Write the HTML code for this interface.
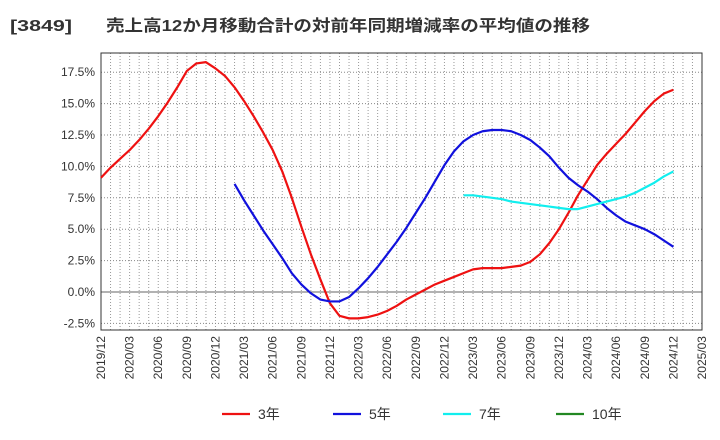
<!DOCTYPE html>
<html><head><meta charset="utf-8"><style>
body{margin:0;background:#fff;font-family:"Liberation Sans","Noto Sans CJK JP",sans-serif}
svg{display:block}
</style></head><body>
<svg id="c" width="720" height="440" xmlns="http://www.w3.org/2000/svg">
<g font-size="16" font-weight="bold" fill="#333" font-family="Liberation Sans,Noto Sans CJK JP,sans-serif">
<text x="10" y="31" textLength="62" lengthAdjust="spacingAndGlyphs">[3849]</text>
<text x="106" y="31" textLength="484" lengthAdjust="spacingAndGlyphs">売上高12か月移動合計の対前年同期増減率の平均値の推移</text>
</g>
<g id="grid"></g><g id="axes"></g><g id="series"></g><g id="legend"></g>
</svg>
<script>
const yTicks=[-2.5,0,2.5,5,7.5,10,12.5,15,17.5];
const xLabels=["2019/12","2020/03","2020/06","2020/09","2020/12","2021/03","2021/06","2021/09","2021/12","2022/03","2022/06","2022/09","2022/12","2023/03","2023/06","2023/09","2023/12","2024/03","2024/06","2024/09","2024/12","2025/03"];
const s3=[9.1,9.9,10.6,11.3,12.1,13.0,14.0,15.1,16.3,17.6,18.2,18.3,17.8,17.2,16.3,15.2,14.0,12.7,11.3,9.6,7.5,5.2,3.0,1.0,-0.9,-1.9,-2.1,-2.1,-2.0,-1.8,-1.5,-1.1,-0.6,-0.2,0.2,0.6,0.9,1.2,1.5,1.8,1.9,1.9,1.9,2.0,2.1,2.4,3.0,3.9,5.0,6.3,7.7,8.9,10.1,11.0,11.8,12.6,13.5,14.4,15.2,15.8,16.1];
const s5start=14;
const s5=[8.6,7.3,6.1,4.9,3.8,2.7,1.5,0.6,-0.1,-0.6,-0.75,-0.75,-0.4,0.3,1.1,2.0,3.0,4.0,5.1,6.3,7.5,8.8,10.1,11.2,12.0,12.5,12.8,12.9,12.9,12.8,12.5,12.1,11.5,10.8,9.9,9.1,8.5,8.0,7.4,6.7,6.1,5.6,5.3,5.0,4.6,4.1,3.6];
const s7start=38;
const s7=[7.7,7.7,7.6,7.5,7.4,7.2,7.1,7.0,6.9,6.8,6.7,6.6,6.6,6.8,7.0,7.2,7.4,7.6,7.9,8.3,8.7,9.2,9.6];
const s10=[];
const L=101,R=702,T=53,B=330;
const monthsTotal=63;
const xs=i=>L+i*(R-L)/monthsTotal;
const ys=v=>292-v*12.56;
const NS="http://www.w3.org/2000/svg";
function mk(t,a,p){const e=document.createElementNS(NS,t);for(const k in a)e.setAttribute(k,a[k]);p.appendChild(e);return e;}
const grid=document.getElementById('grid'),axes=document.getElementById('axes'),ser=document.getElementById('series'),leg=document.getElementById('legend');
for(let i=1;i<monthsTotal;i++){const g=mk('line',{x1:xs(i),x2:xs(i),y1:T,y2:B,stroke:'#999','stroke-dasharray':'1,2','stroke-width':1},grid);

}
yTicks.forEach(v=>{const y=ys(v);const g=mk('line',{x1:L,x2:R,y1:y,y2:y,stroke:v===0?'#666':'#888','stroke-dasharray':v===0?'':'1,2','stroke-width':1},grid);


const t=mk('text',{x:L-6,y:y+4,'text-anchor':'end','font-size':12,fill:'#333'},axes);t.textContent=v.toFixed(1)+'%';

});
xLabels.forEach((lab,i)=>{const x=xs(i*3);const t=mk('text',{transform:`translate(${x+4},${B+6}) rotate(-90)`,'text-anchor':'end','font-size':12,fill:'#333'},axes);t.textContent=lab;

});
const fr=mk('rect',{x:L,y:T,width:R-L,height:B-T,fill:'none',stroke:'#333','stroke-width':1},axes);


function line(arr,start,color,name){if(!arr.length)return;const p=mk('polyline',{points:arr.map((v,i)=>xs(start+i)+','+ys(v)).join(' '),fill:'none',stroke:color,'stroke-width':2.2,'stroke-linejoin':'round'},ser);

}
line(s3,0,'#ee1111','series-3y');
line(s5,s5start,'#1111dd','series-5y');
line(s7,s7start,'#11eeee','series-7y');
line(s10,0,'#228822','series-10y');
[['3年','#ee1111',222],['5年','#1111dd',333],['7年','#11eeee',443],['10年','#228822',556]].forEach(([n,c,x])=>{
const g=mk('g',{},leg);


mk('line',{x1:x,x2:x+28,y1:414,y2:414,stroke:c,'stroke-width':2.2},g);
const t=mk('text',{x:x+36,y:419,'font-size':14,fill:'#333'},g);t.textContent=n;});
</script>
</body></html>
